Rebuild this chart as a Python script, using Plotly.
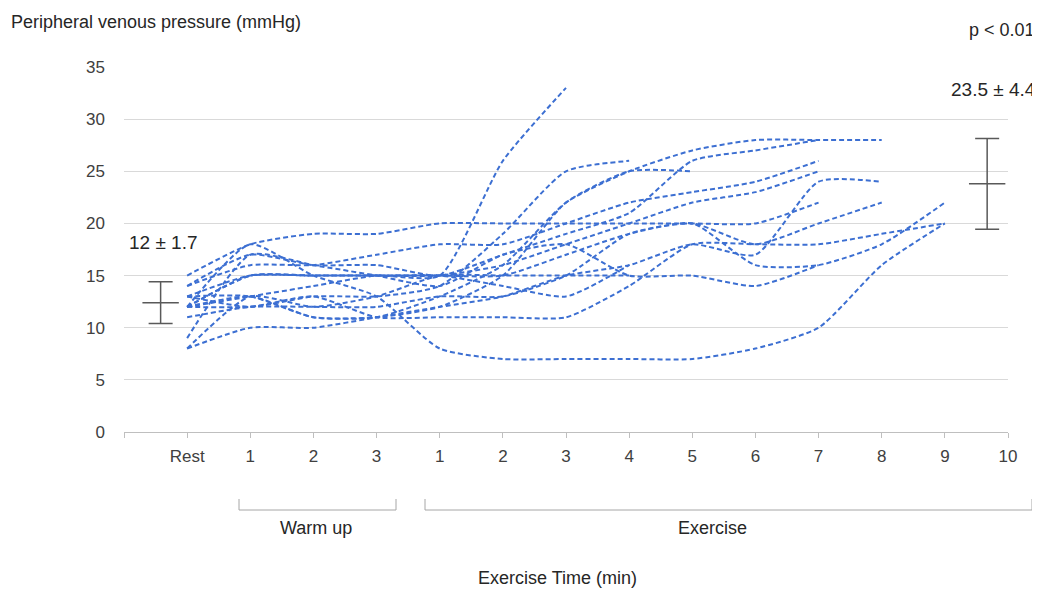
import plotly.graph_objects as go

# Category axis: blank slot, Rest, warm-up minutes 1-3, exercise minutes 1-10
tick_labels = ["", "Rest", "1", "2", "3", "1", "2", "3", "4", "5", "6", "7", "8", "9", "10"]

# Individual subjects: values at Rest, W1, W2, W3, E1 ... E9 (None = no measurement)
s01 = [15, 18, 19, 19, 20, 20, 20, 20, 20, 20, 22, None, None]
s02 = [12, 13, 14, 15, 15, 26, 33, None, None, None, None, None, None]
s03 = [13, 12, 13, 13, 14, 19, 25, 26, None, None, None, None, None]
s04 = [12, 13, 11, 11, 12, 15, 22, 25, 25, None, None, None, None]
s05 = [13, 13, 11, 11, 13, 16, 22, 25, 27, 28, 28, 28, None]
s06 = [14, 17, 16, 16, 15, 17, 19, 21, 26, 27, 28, None, None]
s07 = [14, 16, 16, 17, 18, 18, 20, 22, 23, 24, 26, None, None]
s08 = [12, 15, 15, 15, 15, 16, 18, 20, 22, 23, 25, None, None]
s09 = [8, 10, 10, 11, 12, 13, 15, 16, 18, 17, 24, 24, None]
s10 = [13, 15, 15, 15, 15, 15, 17, 19, 20, 16, 16, 18, 22]
s11 = [9, 17, 16, 15, 14, 17, 18, 15, 15, 14, 16, None, None]
s12 = [12, 12, 13, 11, 11, 11, 11, 14, 18, 18, 18, 19, 20]
s13 = [12, 18, 15, 13, 8, 7, 7, 7, 7, 8, 10, 16, 20]
s14 = [11, 12, 12, 12, 13, 13, 15, 19, 20, 18, 20, 22, None]
s15 = [8, 13, 12, 13, 15, 15, 15, 15, None, None, None, None, None]
s16 = [12, 15, 15, 15, 15, 14, 13, 16, None, None, None, None, None]

subjects = [s01, s02, s03, s04, s05, s06, s07, s08, s09, s10, s11, s12, s13, s14, s15, s16]
x_positions = list(range(1, 14))

# Summary (mean +/- SD) markers
rest_mean, rest_sd = 12.4, 2.0
end_mean, end_sd = 23.8, 4.35
rest_label = "12 ± 1.7"
end_label = "23.5 ± 4.4"

LINE_COLOR = "#3C6FD2"
GREY = "#595959"
TXT = "#262626"
FONT = "Liberation Sans, Arial, sans-serif"

# page offset (browser body margin of 8px)
OFF = 8
PL, PR, PT, PB = 124, 1008, 67, 432   # plot area in page pixels

fig = go.Figure()
for s in subjects:
    fig.add_trace(go.Scatter(
        x=x_positions, y=s, mode="lines",
        line=dict(color=LINE_COLOR, width=2, dash="5px,3px", shape="spline", smoothing=0.6),
        connectgaps=False, hoverinfo="skip", showlegend=False,
    ))

for xpos, m, sd in [(0.58, rest_mean, rest_sd), (13.67, end_mean, end_sd)]:
    fig.add_trace(go.Scatter(
        x=[xpos], y=[m], mode="markers",
        marker=dict(symbol="line-ew", size=26, line=dict(color=GREY, width=1.5)),
        error_y=dict(type="data", array=[sd], color=GREY, thickness=1.5, width=12),
        showlegend=False, hoverinfo="skip",
    ))

def px_x(px):
    return (px - PL) / float(PR - PL)

def px_y(py):
    return (PB - py) / float(PB - PT)

annotations = [
    dict(text="Peripheral venous pressure (mmHg)", x=px_x(9), y=px_y(22), xanchor="left", yanchor="middle",
         font=dict(size=18, color=TXT)),
    dict(text="p < 0.01", x=px_x(1037), y=px_y(30), xanchor="right", yanchor="middle",
         font=dict(size=18, color=TXT)),
    dict(text=rest_label, x=px_x(127), y=px_y(242), xanchor="left", yanchor="middle",
         font=dict(size=19, color=TXT)),
    dict(text=end_label, x=px_x(1038), y=px_y(90), xanchor="right", yanchor="middle",
         font=dict(size=19, color=TXT)),
    dict(text="Warm up", x=px_x(316), y=px_y(528), xanchor="center", yanchor="middle",
         font=dict(size=18, color=TXT)),
    dict(text="Exercise", x=px_x(712), y=px_y(528), xanchor="center", yanchor="middle",
         font=dict(size=18, color=TXT)),
    dict(text="Exercise Time (min)", x=px_x(557), y=px_y(578), xanchor="center", yanchor="middle",
         font=dict(size=18, color=TXT)),
]
for a in annotations:
    a.update(xref="paper", yref="paper", showarrow=False)

shapes = []
for x0, x1 in [(239, 396), (425, 1032)]:
    pts = [(x0, 499), (x0, 510), (x1, 510), (x1, 499)]
    path = "M " + " L ".join(f"{px_x(a)},{px_y(b)}" for a, b in pts)
    shapes.append(dict(type="path", path=path, xref="paper", yref="paper",
                       line=dict(color="#a6a6a6", width=1)))

W, H = 1040 - OFF, 589 - OFF
fig.update_layout(
    width=W, height=H,
    margin=dict(l=PL - OFF, r=W - (PR - OFF), t=PT - OFF, b=H - (PB - OFF), pad=0),
    paper_bgcolor="white", plot_bgcolor="white",
    font=dict(family=FONT, size=17, color="#404040"),
    annotations=annotations, shapes=shapes,
    xaxis=dict(range=[0, 14], tickmode="array", tickvals=list(range(15)), ticktext=tick_labels,
               showgrid=False, zeroline=False, showline=True, linecolor="#bfbfbf", linewidth=1,
               ticks="outside", ticklen=5, tickcolor="#bfbfbf", ticklabelstandoff=4,
               tickfont=dict(size=17, color="#404040")),
    yaxis=dict(range=[0, 35], dtick=5, showgrid=True, gridcolor="#d9d9d9", gridwidth=1,
               zeroline=False, showline=False, ticks="", ticklabelstandoff=18,
               tickfont=dict(size=17, color="#404040")),
)

fig.write_html("out.html")
